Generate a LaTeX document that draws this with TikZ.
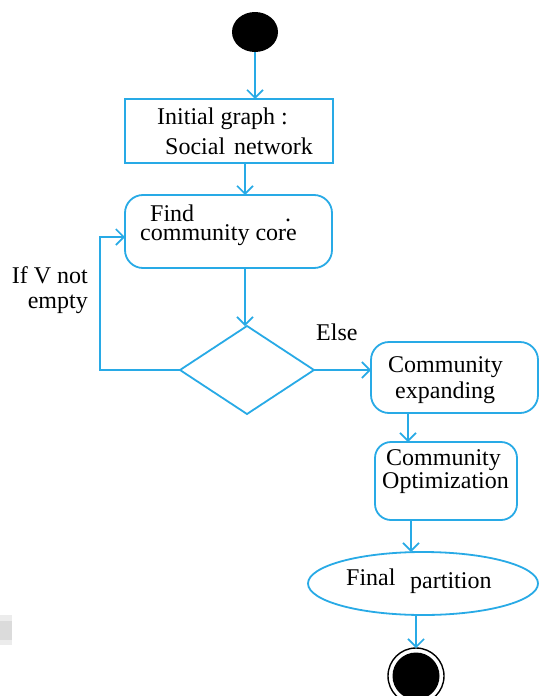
\documentclass[tikz,border=0pt]{standalone}
\usepackage{fontspec}
\setmainfont{Liberation Serif}
\usetikzlibrary{arrows.meta,shapes.geometric}
\definecolor{flow}{RGB}{40,170,230}

\begin{document}
\begin{tikzpicture}[x=1pt,y=-1pt,
  line/.style={draw=flow,line width=1.8pt},
  arr/.style={draw=flow,line width=1.8pt,-{Straight Barb[length=8pt,width=16pt,line width=1.6pt]}},
  txt/.style={font=\fontsize{24}{28}\selectfont,inner sep=0pt,anchor=base west},
  rtxt/.style={txt,anchor=base east},
  blank/.style={inner sep=0pt,outer sep=0pt}
]
\useasboundingbox (0,0) rectangle (539,696);
\fill[white] (0,0) rectangle (539,696);

% faint grey patch on the left margin
\fill[gray!15] (0,615) rectangle (12,645);
\fill[gray!28] (0,621) rectangle (12,640);

% start node
\node[blank,ellipse,fill=black,minimum width=46pt,minimum height=40pt] (start) at (255,32) {};

% activities
\node[blank,line,rectangle,minimum width=208pt,minimum height=64pt] (init) at (229,131) {};
\node[blank,line,rounded corners=18pt,minimum width=207pt,minimum height=73pt] (core) at (228.5,231.5) {};
\node[blank,line,diamond,minimum width=134pt,minimum height=88pt] (dec) at (247,370) {};
\node[blank,line,rounded corners=18pt,minimum width=167pt,minimum height=71pt] (exp) at (454.5,377.5) {};
\node[blank,line,rounded corners=16pt,minimum width=142pt,minimum height=78pt] (opt) at (446,481) {};
\node[blank,line,ellipse,minimum width=230pt,minimum height=63pt] (fin) at (423,583.5) {};

% end node
\node[blank,circle,draw=black,line width=1.4pt,minimum size=56pt] (end) at (416,676) {};
\fill[black] (end.center) circle[radius=23.5pt];

% text
\node[txt] (t1) at (157,124) {Initial graph :};
\node[txt] (t2) at (165,154) {Social\hspace{3pt} network};
\node[txt,anchor=north west,align=left,font=\fontsize{24}{19}\selectfont]
  (t3) at (140,205) {\hspace{10pt}Find\hspace{91pt}.\\community core};
\node[rtxt] (t5) at (88,283) {If V not};
\node[rtxt] (t6) at (88,308) {empty};
\node[txt] (t7) at (316,340) {Else};
\node[txt] (t8) at (388,372) {Community};
\node[txt] (t9) at (395,398) {expanding};
\node[txt] (t10) at (386,465) {Community};
\node[txt] (t11) at (382,488) {Optimization};
\node[txt] (t12) at (346,585) {Final};
\node[txt] (t13) at (410,588) {partition};

% flow
\coordinate (c1) at (245,0);
\coordinate (c2) at (408,0);
\coordinate (c3) at (411,0);
\draw[arr] (start.south) -- (start.south |- init.north);
\draw[arr] (init.south -| c1) -- (core.north -| c1);
\draw[arr] (core.south -| c1) -- (dec.north -| c1);
\draw[arr] (dec.west) -- ++(-80,0) |- ([yshift=-5.5pt]core.west);
\draw[arr] (dec.east) -- (dec.east -| exp.west);
\draw[arr] (exp.south -| c2) -- (opt.north -| c2);
\draw[arr] (opt.south -| c3) -- (fin.north -| c3);
\draw[arr] (fin.south -| end.north) -- (end.north);
\end{tikzpicture}
\end{document}
